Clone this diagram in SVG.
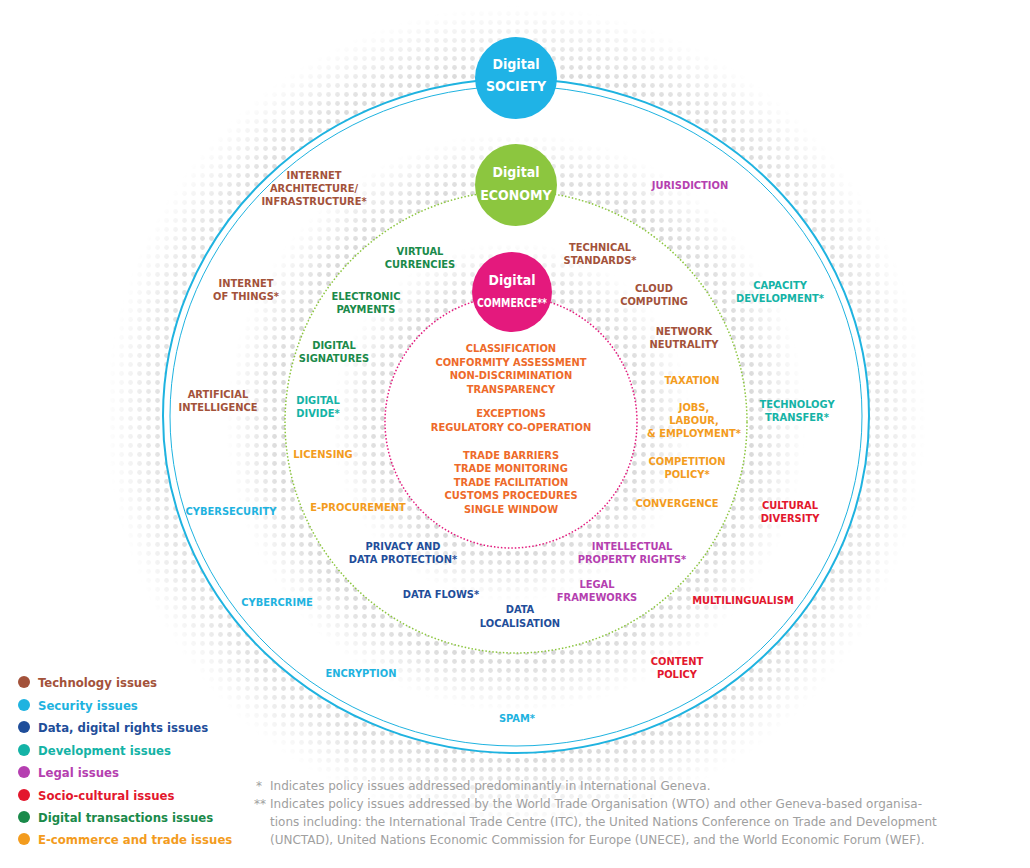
<svg xmlns="http://www.w3.org/2000/svg" width="1030" height="868" viewBox="0 0 1030 868">
<style>
text{font-family:"DejaVu Sans Condensed","DejaVu Sans",sans-serif;font-weight:bold;font-size:11px;text-anchor:middle}
.t{fill:#a3523a}.s{fill:#1fb3e0}.d{fill:#1f4e9a}.v{fill:#14b3a6}.l{fill:#b53fb0}.r{fill:#e3172d}.g{fill:#1a8a4a}.e{fill:#f39c1e}.c{fill:#ee6a2a}
.n{fill:#fff;font-size:14px}
.lg{text-anchor:start;font-size:13px}
.fn{text-anchor:start;font-size:12px;font-weight:normal;fill:#a0a0a0;font-family:"DejaVu Sans",sans-serif}
</style>
<defs>
<pattern id="dots" width="9" height="9" patternUnits="userSpaceOnUse"><circle cx="4.5" cy="4.5" r="2.4" fill="#d2d2d2"/></pattern>
<radialGradient id="g1" gradientUnits="userSpaceOnUse" cx="516" cy="416" r="410"><stop offset="0.8" stop-color="#fff"/><stop offset="1" stop-color="#fff" stop-opacity="0"/></radialGradient>
<radialGradient id="g2" gradientUnits="userSpaceOnUse" cx="516" cy="422" r="290"><stop offset="0.78" stop-color="#fff"/><stop offset="1" stop-color="#fff" stop-opacity="0"/></radialGradient>
<radialGradient id="g3" gradientUnits="userSpaceOnUse" cx="511" cy="422" r="180"><stop offset="0.68" stop-color="#fff"/><stop offset="1" stop-color="#fff" stop-opacity="0"/></radialGradient>
<mask id="m1"><circle cx="516" cy="416" r="410" fill="url(#g1)"/></mask>
<mask id="m2"><circle cx="516" cy="422" r="290" fill="url(#g2)"/></mask>
<mask id="m3"><circle cx="511" cy="422" r="180" fill="url(#g3)"/></mask>
</defs>
<rect width="1030" height="868" fill="#fff"/>
<g id="rings">
<circle cx="516" cy="416" r="410" fill="url(#dots)" mask="url(#m1)"/>
<ellipse cx="516" cy="416" rx="353" ry="337" fill="#fff" stroke="#1fb3e0" stroke-width="2"/>
<ellipse cx="516" cy="416" rx="346" ry="330" fill="none" stroke="#1fb3e0" stroke-width="1"/>
<circle cx="516" cy="422" r="290" fill="url(#dots)" mask="url(#m2)"/>
<circle cx="516" cy="422" r="231" fill="#fff" stroke="#8cc63f" stroke-width="1.5" stroke-dasharray="1.5 2"/>
<circle cx="511" cy="422" r="180" fill="url(#dots)" mask="url(#m3)"/>
<circle cx="511" cy="422" r="126" fill="#fff" stroke="#e4197d" stroke-width="1.5" stroke-dasharray="1.5 2"/>
</g>
<g id="connectors"></g>
<g id="society"><circle cx="516" cy="78" r="41" fill="#1fb3e6"/><text class="n" x="516" y="69">Digital</text><text class="n" x="516" y="91">SOCIETY</text></g>
<g id="economy"><circle cx="516" cy="185" r="41" fill="#8cc63f"/><text class="n" x="516" y="177">Digital</text><text class="n" x="516" y="200">ECONOMY</text></g>
<g id="commerce"><circle cx="512" cy="292" r="40" fill="#e4197d"/><text class="n" x="512" y="285">Digital</text><text class="n" x="512" y="307" style="font-size:12.5px" textLength="70" lengthAdjust="spacingAndGlyphs">COMMERCE**</text></g>
<g id="labels">
<text class="t" x="314" y="179">INTERNET</text><text class="t" x="314" y="192">ARCHITECTURE/</text><text class="t" x="314" y="205">INFRASTRUCTURE*</text>
<text class="l" x="690" y="189">JURISDICTION</text>
<text class="g" x="420" y="255">VIRTUAL</text><text class="g" x="420" y="268">CURRENCIES</text>
<text class="t" x="600" y="251">TECHNICAL</text><text class="t" x="600" y="264">STANDARDS*</text>
<text class="t" x="246" y="287">INTERNET</text><text class="t" x="246" y="300">OF THINGS*</text>
<text class="g" x="366" y="300">ELECTRONIC</text><text class="g" x="366" y="313">PAYMENTS</text>
<text class="t" x="654" y="292">CLOUD</text><text class="t" x="654" y="305">COMPUTING</text>
<text class="v" x="780" y="289">CAPACITY</text><text class="v" x="780" y="302">DEVELOPMENT*</text>
<text class="g" x="334" y="349">DIGITAL</text><text class="g" x="334" y="362">SIGNATURES</text>
<text class="t" x="684" y="335">NETWORK</text><text class="t" x="684" y="348">NEUTRALITY</text>
<text class="e" x="692" y="384">TAXATION</text>
<text class="t" x="218" y="398">ARTIFICIAL</text><text class="t" x="218" y="411">INTELLIGENCE</text>
<text class="v" x="318" y="404">DIGITAL</text><text class="v" x="318" y="417">DIVIDE*</text>
<text class="v" x="797" y="408">TECHNOLOGY</text><text class="v" x="797" y="421">TRANSFER*</text>
<text class="e" x="694" y="411">JOBS,</text><text class="e" x="694" y="424">LABOUR,</text><text class="e" x="694" y="437">&amp; EMPLOYMENT*</text>
<text class="e" x="323" y="458">LICENSING</text>
<text class="e" x="687" y="465">COMPETITION</text><text class="e" x="687" y="478">POLICY*</text>
<text class="s" x="231" y="515">CYBERSECURITY</text>
<text class="e" x="358" y="511">E-PROCUREMENT</text>
<text class="e" x="677" y="507">CONVERGENCE</text>
<text class="r" x="790" y="509">CULTURAL</text><text class="r" x="790" y="522">DIVERSITY</text>
<text class="d" x="403" y="550">PRIVACY AND</text><text class="d" x="403" y="563">DATA PROTECTION*</text>
<text class="l" x="632" y="550">INTELLECTUAL</text><text class="l" x="632" y="563">PROPERTY RIGHTS*</text>
<text class="l" x="597" y="588">LEGAL</text><text class="l" x="597" y="601">FRAMEWORKS</text>
<text class="s" x="277" y="606">CYBERCRIME</text>
<text class="d" x="441" y="598">DATA FLOWS*</text>
<text class="r" x="743" y="604">MULTILINGUALISM</text>
<text class="d" x="520" y="613">DATA</text><text class="d" x="520" y="627">LOCALISATION</text>
<text class="s" x="361" y="677">ENCRYPTION</text>
<text class="r" x="677" y="665">CONTENT</text><text class="r" x="677" y="678">POLICY</text>
<text class="s" x="517" y="722">SPAM*</text>
<text class="c" x="511" y="352">CLASSIFICATION</text>
<text class="c" x="511" y="366">CONFORMITY ASSESSMENT</text>
<text class="c" x="511" y="379">NON-DISCRIMINATION</text>
<text class="c" x="511" y="393">TRANSPARENCY</text>
<text class="c" x="511" y="417">EXCEPTIONS</text>
<text class="c" x="511" y="431">REGULATORY CO-OPERATION</text>
<text class="c" x="511" y="459">TRADE BARRIERS</text>
<text class="c" x="511" y="472">TRADE MONITORING</text>
<text class="c" x="511" y="486">TRADE FACILITATION</text>
<text class="c" x="511" y="499">CUSTOMS PROCEDURES</text>
<text class="c" x="511" y="513">SINGLE WINDOW</text>
</g>
<g id="legend">
<circle cx="24" cy="682" r="6" fill="#a3523a"/><text class="lg t" x="38" y="687">Technology issues</text>
<circle cx="24" cy="705" r="6" fill="#1fb3e0"/><text class="lg s" x="38" y="710">Security issues</text>
<circle cx="24" cy="727" r="6" fill="#1f4e9a"/><text class="lg d" x="38" y="732">Data, digital rights issues</text>
<circle cx="24" cy="750" r="6" fill="#14b3a6"/><text class="lg v" x="38" y="755">Development issues</text>
<circle cx="24" cy="772" r="6" fill="#b53fb0"/><text class="lg l" x="38" y="777">Legal issues</text>
<circle cx="24" cy="795" r="6" fill="#e3172d"/><text class="lg r" x="38" y="800">Socio-cultural issues</text>
<circle cx="24" cy="817" r="6" fill="#1a8a4a"/><text class="lg g" x="38" y="822">Digital transactions issues</text>
<circle cx="24" cy="839" r="6" fill="#f39c1e"/><text class="lg e" x="38" y="844">E-commerce and trade issues</text>
</g>
<g id="footnotes">
<text class="fn" x="256" y="790">*</text><text class="fn" x="270" y="790">Indicates policy issues addressed predominantly in International Geneva.</text>
<text class="fn" x="254" y="808">**</text><text class="fn" x="270" y="808">Indicates policy issues addressed by the World Trade Organisation (WTO) and other Geneva-based organisa-</text>
<text class="fn" x="270" y="826">tions including: the International Trade Centre (ITC), the United Nations Conference on Trade and Development</text>
<text class="fn" x="270" y="844">(UNCTAD), United Nations Economic Commission for Europe (UNECE), and the World Economic Forum (WEF).</text>
</g>
</svg>
